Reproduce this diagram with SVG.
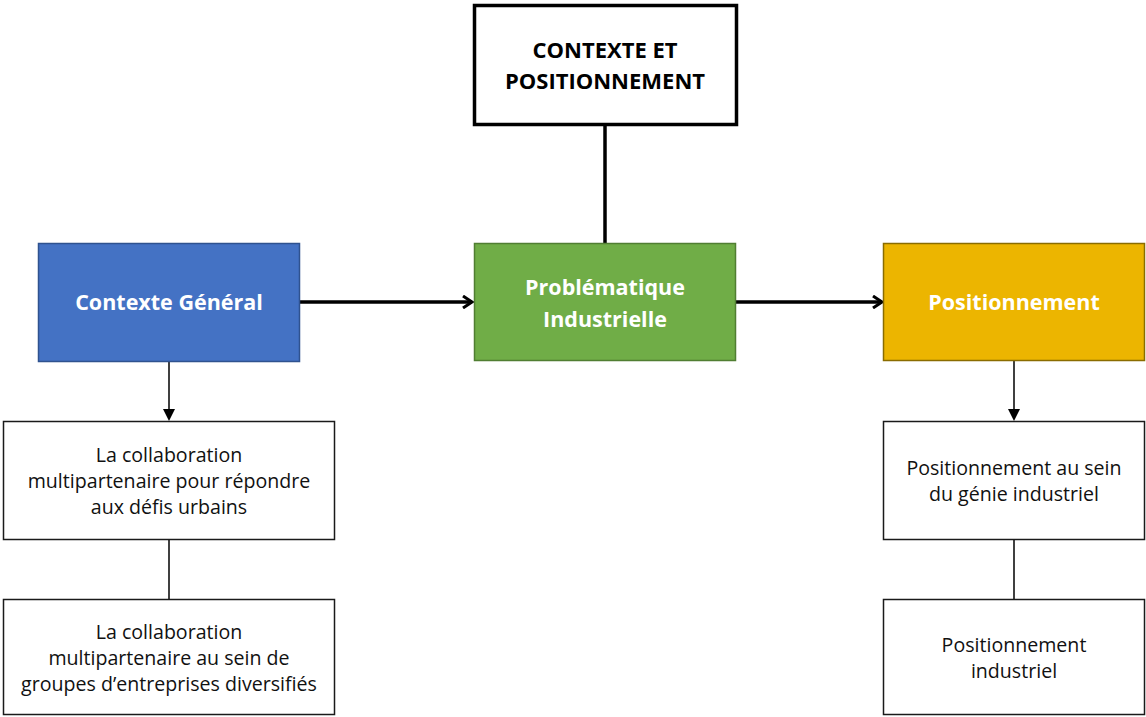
<svg xmlns="http://www.w3.org/2000/svg" width="1146" height="717" viewBox="0 0 1146 717">
<style>
.t{font-family:"Open Sans","Noto Sans","Liberation Sans",sans-serif;text-anchor:middle}
.h{font-size:21.5px;font-weight:bold;fill:#fff}
.s{font-size:19.6px;fill:#111}
.b{fill:#fff;stroke:#1a1a1a;stroke-width:1.5}
</style>
<defs>
<marker id="open" markerWidth="14" markerHeight="14" refX="11" refY="7" orient="auto" markerUnits="userSpaceOnUse">
<path d="M2,1 L11,7 L2,13" fill="none" stroke="#000" stroke-width="3"/>
</marker>
</defs>
<g id="connectors" fill="none" stroke="#000">
<line x1="605" y1="125" x2="605" y2="243" stroke-width="3.5"/>
<line x1="300" y1="302" x2="472" y2="302" stroke-width="3.5" marker-end="url(#open)"/>
<line x1="736" y1="302" x2="882" y2="302" stroke-width="3.5" marker-end="url(#open)"/>
<line x1="169" y1="362" x2="169" y2="410" stroke-width="1.5"/>
<path d="M163,409 L175,409 L169,421 Z" fill="#000" stroke="none"/>
<line x1="1014" y1="361" x2="1014" y2="410" stroke-width="1.5"/>
<path d="M1008,409 L1020,409 L1014,421 Z" fill="#000" stroke="none"/>
<line x1="169" y1="540" x2="169" y2="599" stroke-width="1.5"/>
<line x1="1014" y1="540" x2="1014" y2="599" stroke-width="1.5"/>
</g>
<g id="top">
<rect x="474.5" y="5.5" width="262" height="119" fill="#fff" stroke="#000" stroke-width="3.5"/>
<text class="t" x="605" y="58" font-size="22" font-weight="bold" fill="#000">CONTEXTE ET</text>
<text class="t" x="605" y="89" font-size="22" font-weight="bold" fill="#000">POSITIONNEMENT</text>
</g>
<g id="contexte">
<rect x="38.5" y="243.5" width="261" height="118" fill="#4472c4" stroke="#2f528f" stroke-width="1.5"/>
<text class="t h" x="169" y="310">Contexte Général</text>
</g>
<g id="problematique">
<rect x="474.5" y="243.5" width="261" height="117" fill="#70ad47" stroke="#507e32" stroke-width="1.5"/>
<text class="t h" x="605" y="295">Problématique</text>
<text class="t h" x="605" y="327">Industrielle</text>
</g>
<g id="positionnement">
<rect x="883.5" y="243.5" width="261" height="117" fill="#ecb500" stroke="#8a6c00" stroke-width="1.5"/>
<text class="t h" x="1014" y="310">Positionnement</text>
</g>
<g id="collab1">
<rect class="b" x="3.5" y="421.5" width="331" height="118"/>
<text class="t s" x="169" y="462">La collaboration</text>
<text class="t s" x="169" y="488">multipartenaire pour répondre</text>
<text class="t s" x="169" y="514">aux défis urbains</text>
</g>
<g id="collab2">
<rect class="b" x="3.5" y="599.5" width="331" height="115"/>
<text class="t s" x="169" y="639">La collaboration</text>
<text class="t s" x="169" y="665">multipartenaire au sein de</text>
<text class="t s" x="169" y="691">groupes d’entreprises diversifiés</text>
</g>
<g id="pos1">
<rect class="b" x="883.5" y="421.5" width="261" height="118"/>
<text class="t s" x="1014" y="475">Positionnement au sein</text>
<text class="t s" x="1014" y="501">du génie industriel</text>
</g>
<g id="pos2">
<rect class="b" x="883.5" y="599.5" width="261" height="115"/>
<text class="t s" x="1014" y="652">Positionnement</text>
<text class="t s" x="1014" y="678">industriel</text>
</g>
</svg>
